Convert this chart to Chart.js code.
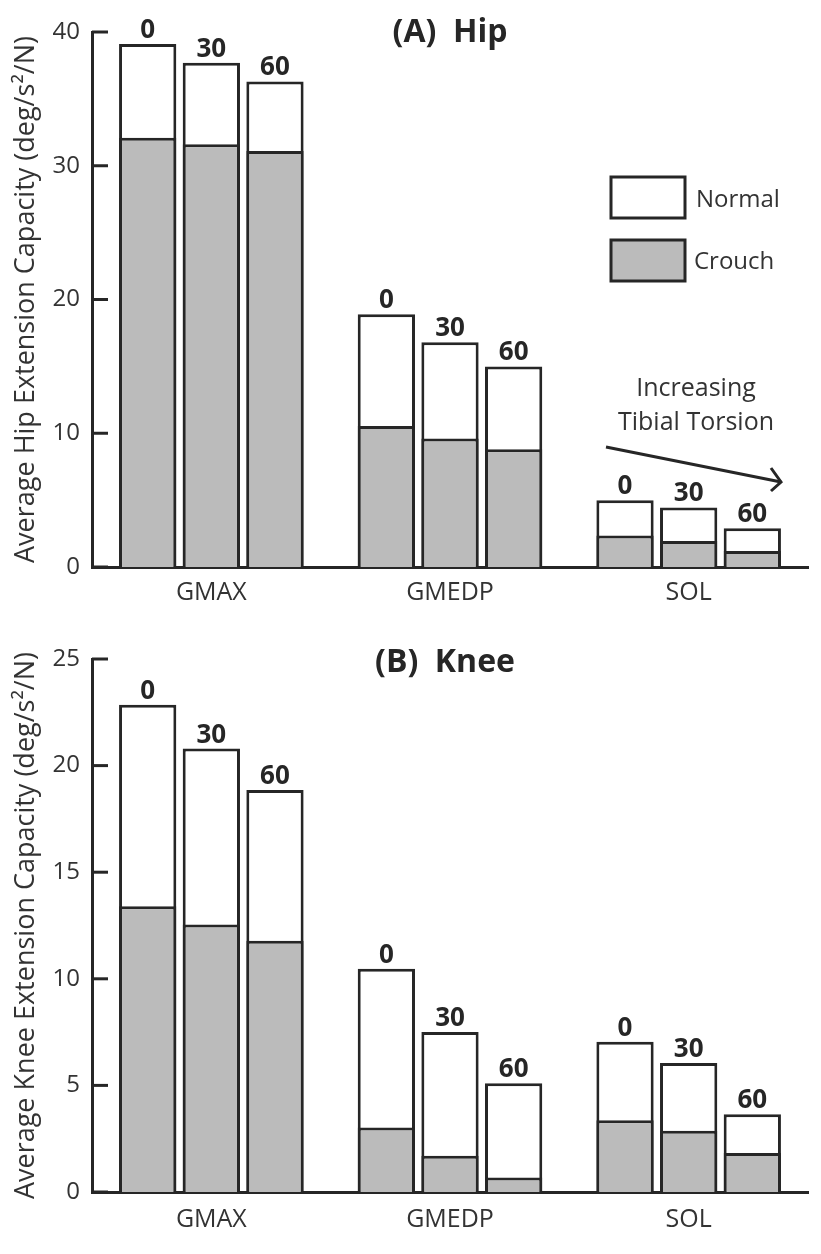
<!DOCTYPE html>
<html>
<head>
<meta charset="utf-8">
<script src="https://cdn.jsdelivr.net/npm/chart.js@4.4.0/dist/chart.umd.min.js"></script>
<style>
  body { margin: 0; background: #fff; }
  canvas { display: block; }
</style>
</head>
<body>
<canvas id="hip" width="821" height="630"></canvas>
<canvas id="knee" width="821" height="624"></canvas>
<script>
const categories = ["GMAX", "GMEDP", "SOL"];
const torsions = ["0", "30", "60"];
const hipTicks = [0, 10, 20, 30, 40];
const kneeTicks = [0, 5, 10, 15, 20, 25];

// (A) hip, one array per tibial torsion
const hipNormal0 = [39.1, 18.9, 5.0];
const hipNormal30 = [37.7, 16.8, 4.45];
const hipNormal60 = [36.3, 15.0, 2.9];
const hipCrouch0 = [32.1, 10.55, 2.35];
const hipCrouch30 = [31.6, 9.6, 1.95];
const hipCrouch60 = [31.1, 8.8, 1.2];

// (B) knee
const kneeNormal0 = [22.85, 10.47, 7.05];
const kneeNormal30 = [20.8, 7.5, 6.05];
const kneeNormal60 = [18.86, 5.1, 3.65];
const kneeCrouch0 = [13.4, 3.03, 3.37];
const kneeCrouch30 = [12.55, 1.7, 2.87];
const kneeCrouch60 = [11.78, 0.68, 1.83];

const ink = "#262626";
const grey = "#bbbbbb";
Chart.defaults.font.family = "'Open Sans', sans-serif";
Chart.defaults.color = "#333";

const decor = {
    id: "decor",
    afterDatasetsDraw(chart, args, opts) {
        const ctx = chart.ctx;
        const area = chart.chartArea;
        const yScale = chart.scales.y;
        ctx.save();

        // ticks point into the plot
        ctx.strokeStyle = ink;
        ctx.lineWidth = 3;
        yScale.ticks.forEach((t, i) => {
            const py = yScale.getPixelForTick(i);
            ctx.beginPath();
            ctx.moveTo(area.left, py);
            ctx.lineTo(area.left + 16, py);
            ctx.stroke();
        });

        // torsion angle above each normal bar
        ctx.fillStyle = ink;
        ctx.textAlign = "center";
        ctx.textBaseline = "alphabetic";
        ctx.font = "bold 26px 'Open Sans'";
        chart.data.datasets.forEach((ds, di) => {
            if (ds.kind !== "normal") return;
            chart.getDatasetMeta(di).data.forEach(bar => {
                ctx.fillText(ds.stack, bar.x, bar.y - 6);
            });
        });

        ctx.font = "bold 32px 'Open Sans'";
        ctx.fillText(opts.title, (area.left + area.right) / 2 + opts.titleDx, area.top + opts.titleDy);

        if (opts.legend) {
            ctx.lineWidth = 3;
            ctx.fillStyle = "#fff";
            ctx.fillRect(611, 177, 74, 41);
            ctx.strokeRect(611, 177, 74, 41);
            ctx.fillStyle = grey;
            ctx.fillRect(611, 240, 74, 41);
            ctx.strokeRect(611, 240, 74, 41);

            ctx.fillStyle = "#333";
            ctx.font = "24px 'Open Sans'";
            ctx.textAlign = "left";
            ctx.textBaseline = "middle";
            ctx.fillText("Normal", 696, 200);
            ctx.fillText("Crouch", 694, 262);

            ctx.textAlign = "center";
            ctx.font = "25px 'Open Sans'";
            ctx.fillText("Increasing", 696, 389);
            ctx.fillText("Tibial Torsion", 696, 423);

            ctx.strokeStyle = ink;
            ctx.lineWidth = 3;
            ctx.beginPath();
            ctx.moveTo(606, 447);
            ctx.lineTo(781, 482);
            ctx.stroke();
            ctx.beginPath();
            ctx.moveTo(771, 468);
            ctx.lineTo(781, 482);
            ctx.lineTo(771, 491);
            ctx.stroke();
        }
        ctx.restore();
    }
};

function makeDatasets(normals, crouches) {
    const sets = [];
    torsions.forEach((t, i) => {
        sets.push({ kind: "crouch", label: "Crouch " + t, stack: t, data: crouches[i],
            backgroundColor: grey, borderColor: ink, borderWidth: 3 });
        sets.push({ kind: "normal", label: "Normal " + t, stack: t, data: normals[i],
            backgroundColor: "#fff", borderColor: ink, borderWidth: 3 });
    });
    return sets;
}

function makeChart(id, cfg) {
    const canvas = document.getElementById(id);
    return new Chart(canvas, {
        type: "bar",
        data: { labels: categories, datasets: makeDatasets(cfg.normals, cfg.crouches) },
        plugins: [decor],
        options: {
            responsive: false,
            animation: false,
            layout: { padding: { top: cfg.top, right: 13, left: 0, bottom: 0 } },
            scales: {
                x: {
                    stacked: true,
                    grid: { display: false },
                    border: { display: true, color: ink, width: 3 },
                    ticks: { font: { size: 25 }, color: "#333", padding: cfg.xPad },
                    afterFit: s => { s.height = canvas.height - cfg.bottom; }
                },
                y: {
                    stacked: false,
                    min: 0,
                    max: cfg.ticks[cfg.ticks.length - 1],
                    grid: { display: false, drawTicks: false },
                    border: { display: true, color: ink, width: 3 },
                    afterBuildTicks: s => { s.ticks = cfg.ticks.map(v => ({ value: v })); },
                    ticks: { font: { size: 24 }, color: "#333", padding: 12 },
                    title: {
                        display: true,
                        text: cfg.yTitle,
                        font: { size: 27 },
                        color: "#333",
                        padding: { top: 10, bottom: 0 }
                    },
                    afterFit: s => { s.width = 92; }
                }
            },
            plugins: {
                legend: { display: false },
                tooltip: { enabled: false },
                decor: cfg.decor
            }
        }
    });
}

makeChart("hip", {
    normals: [hipNormal0, hipNormal30, hipNormal60],
    crouches: [hipCrouch0, hipCrouch30, hipCrouch60],
    ticks: hipTicks,
    top: 32,
    bottom: 567,
    xPad: 3,
    yTitle: "Average Hip Extension Capacity (deg/s²/N)",
    decor: { title: "(A)  Hip", titleDx: 0, titleDy: 10, legend: true }
});

makeChart("knee", {
    normals: [kneeNormal0, kneeNormal30, kneeNormal60],
    crouches: [kneeCrouch0, kneeCrouch30, kneeCrouch60],
    ticks: kneeTicks,
    top: 29,
    bottom: 562,
    xPad: 5,
    yTitle: "Average Knee Extension Capacity (deg/s²/N)",
    decor: { title: "(B)  Knee", titleDx: -5, titleDy: 13, legend: false }
});
</script>
</body>
</html>
